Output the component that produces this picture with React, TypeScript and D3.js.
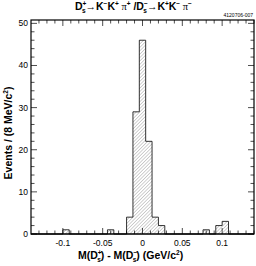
import React from "react";
import * as d3 from "d3";

// M(Ds+) - M(Ds-) histogram, 8 MeV bins from -0.14 to 0.14 GeV
const binLow = -0.14;
const binWidth = 0.008;
const counts = [
  0, 0, 0, 0, 0, 1, 0, 0, 0, 0, 0, 0, 1, 0, 0, 4, 29, 46,
  22, 4, 2, 0, 0, 0, 0, 0, 0, 1, 0, 2, 3, 0, 0, 0, 0,
];
const xTicks = [-0.1, -0.05, 0, 0.05, 0.1];
const xTickLabels = ["-0.1", "-0.05", "0", "0.05", "0.1"];
const yTicks = [0, 10, 20, 30, 40, 50];

const W = 256;
const H = 266;
const margin = { left: 31, right: 2, top: 20, bottom: 32 };
const font = "'Liberation Sans', Arial, Helvetica, sans-serif";

const App = () => {
  const x = d3.scaleLinear().domain([-0.14, 0.14]).range([margin.left, W - margin.right]);
  const y = d3.scaleLinear().domain([0, 50.8]).range([H - margin.bottom, margin.top]);
  const x0 = x.range()[0], x1 = x.range()[1];
  const y0 = y.range()[0], y1 = y.range()[1];

  const bins = counts.map((c, i) => ({ lo: binLow + i * binWidth, hi: binLow + (i + 1) * binWidth, c }));
  // step outline: two points per bin, closed on the baseline
  const pts: [number, number][] = [[bins[0].lo, 0]];
  bins.forEach((b) => { pts.push([b.lo, b.c]); pts.push([b.hi, b.c]); });
  pts.push([bins[bins.length - 1].hi, 0]);
  const line = d3.line<[number, number]>().x((d) => x(d[0])).y((d) => y(d[1]));
  const histPath = line(pts) + "Z";

  const xMinor = d3.range(-0.13, 0.1401, 0.01).map((v) => +v.toFixed(3));
  const yMinor = d3.range(0, 51, 2);
  const sup = 6.5;

  return (
    <svg width={W} height={H} style={{ position: "absolute", left: 0, top: 0, background: "#fff" }}>
      <defs>
        <pattern id="hatch" width="2.4" height="2.4" patternUnits="userSpaceOnUse" patternTransform="rotate(45)">
          <line x1="0" y1="0" x2="0" y2="2.4" stroke="#666" strokeWidth="0.6" />
        </pattern>
      </defs>

      {/* title */}
      <text x={75} y={10} fontFamily={font} fontWeight="bold" fontSize={10.5}>
        D
        <tspan fontSize={sup} dy={-4}>+</tspan>
        <tspan fontSize={sup} dx={-4.5} dy={7}>s</tspan>
        <tspan dy={-3}>→K</tspan>
        <tspan fontSize={sup} dy={-4}>−</tspan>
        <tspan dy={4}>K</tspan>
        <tspan fontSize={sup} dy={-4}>+</tspan>
        <tspan dy={4} fontFamily="'Liberation Serif', serif" fontWeight="normal"> π</tspan>
        <tspan fontSize={sup} dy={-4}>+</tspan>
        <tspan dy={4}> /D</tspan>
        <tspan fontSize={sup} dy={-4}>−</tspan>
        <tspan fontSize={sup} dx={-4.5} dy={7}>s</tspan>
        <tspan dy={-3}>→K</tspan>
        <tspan fontSize={sup} dy={-4}>+</tspan>
        <tspan dy={4}>K</tspan>
        <tspan fontSize={sup} dy={-4}>−</tspan>
        <tspan dy={4} fontFamily="'Liberation Serif', serif" fontWeight="normal"> π</tspan>
        <tspan fontSize={sup} dy={-4}>−</tspan>
      </text>
      <text x={x1 - 1} y={17} textAnchor="end" fontFamily={font} fontSize={5}>4120706-007</text>

      {/* histogram */}
      <path d={histPath} fill="url(#hatch)" stroke="#000" strokeWidth={0.8} />

      {/* frame */}
      <rect x={x0} y={y1} width={x1 - x0} height={y0 - y1} fill="none" stroke="#000" strokeWidth={1.2} />

      {/* x ticks, bottom and top */}
      {xMinor.map((v) => {
        const major = xTicks.some((t) => Math.abs(t - v) < 1e-6);
        const len = major ? 6 : 3.5;
        return (
          <g key={"xt" + v} stroke="#000" strokeWidth={0.7}>
            <line x1={x(v)} x2={x(v)} y1={y0} y2={y0 - len} />
            <line x1={x(v)} x2={x(v)} y1={y1} y2={y1 + len} />
          </g>
        );
      })}
      {xTicks.map((v, i) => (
        <text key={"xl" + v} x={x(v)} y={y0 + 12} textAnchor="middle" fontFamily={font} fontSize={8.5}>
          {xTickLabels[i]}
        </text>
      ))}

      {/* y ticks, left and right */}
      {yMinor.map((v) => {
        const len = v % 10 === 0 ? 6 : 3.5;
        return (
          <g key={"yt" + v} stroke="#000" strokeWidth={0.7}>
            <line x1={x0} x2={x0 + len} y1={y(v)} y2={y(v)} />
            <line x1={x1} x2={x1 - len} y1={y(v)} y2={y(v)} />
          </g>
        );
      })}
      {yTicks.map((v) => (
        <text key={"yl" + v} x={x0 - 3} y={Math.max(y(v) + 3, y1 + 1)} textAnchor="end" fontFamily={font} fontSize={8.5}>
          {v}
        </text>
      ))}

      {/* axis labels */}
      <text transform={`translate(12,${(y0 + y1) / 2 + 6}) rotate(-90)`} textAnchor="middle"
        fontFamily={font} fontWeight="bold" fontSize={10.5}>
        Events / (8 MeV/c<tspan fontSize={sup} dy={-4}>2</tspan><tspan dy={4}>)</tspan>
      </text>
      <text x={78} y={259} fontFamily={font} fontWeight="bold" fontSize={10.5}>
        M(D
        <tspan fontSize={sup} dy={-4}>+</tspan>
        <tspan fontSize={sup} dx={-4.5} dy={7}>s</tspan>
        <tspan dy={-3}>) - M(D</tspan>
        <tspan fontSize={sup} dy={-4}>−</tspan>
        <tspan fontSize={sup} dx={-4.5} dy={7}>s</tspan>
        <tspan dy={-3}>) (GeV/c</tspan>
        <tspan fontSize={sup} dy={-4}>2</tspan>
        <tspan dy={4}>)</tspan>
      </text>
    </svg>
  );
};

export default App;
